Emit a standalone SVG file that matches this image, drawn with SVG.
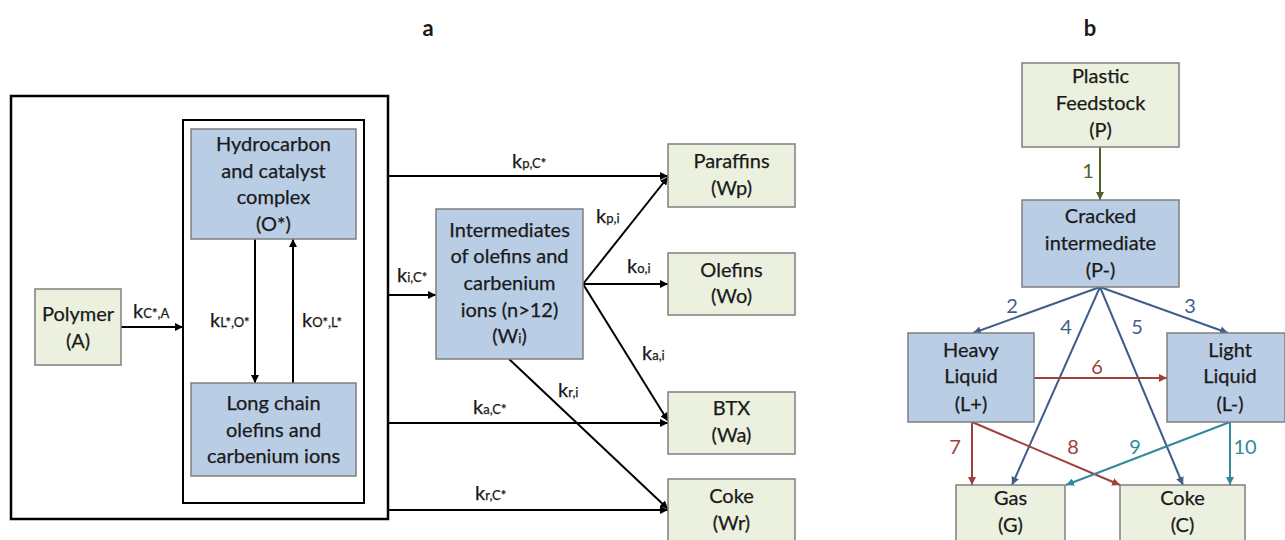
<svg xmlns="http://www.w3.org/2000/svg" width="1285" height="540" viewBox="0 0 1285 540">
<style>
text{font-family:Lato,"Open Sans","Liberation Sans",sans-serif;fill:#1a1a1a}
.t{font-size:20px;text-anchor:middle;stroke:#1a1a1a;stroke-width:0.25}
.k{font-size:20px;stroke:#1a1a1a;stroke-width:0.25}
.s{font-size:13px}
.title{font-size:22px;font-weight:bold;text-anchor:middle}
.g{fill:#ebf1de;stroke:#7f7f7f;stroke-width:1.5}
.b{fill:#b9cde5;stroke:#7f7f7f;stroke-width:1.5}
.frame{fill:none;stroke:#000}
.c{fill:none;stroke:#000;stroke-width:2}
.cg{fill:none;stroke:#4f6228;stroke-width:2}
.cb{fill:none;stroke:#3f5f8a;stroke-width:2}
.cr{fill:none;stroke:#a0403c;stroke-width:2}
.ct{fill:none;stroke:#31899c;stroke-width:2}
.n{font-size:20px;text-anchor:middle}
</style>
<defs>
<marker id="ak" viewBox="0 0 10 10" refX="10" refY="5" markerWidth="4" markerHeight="4" orient="auto" markerUnits="strokeWidth"><path d="M0,0L10,5L0,10z" fill="#000"/></marker>
<marker id="ag" viewBox="0 0 10 10" refX="10" refY="5" markerWidth="4" markerHeight="4" orient="auto" markerUnits="strokeWidth"><path d="M0,0L10,5L0,10z" fill="#4f6228"/></marker>
<marker id="ab" viewBox="0 0 10 10" refX="10" refY="5" markerWidth="4" markerHeight="4" orient="auto" markerUnits="strokeWidth"><path d="M0,0L10,5L0,10z" fill="#3f5f8a"/></marker>
<marker id="ar" viewBox="0 0 10 10" refX="10" refY="5" markerWidth="4" markerHeight="4" orient="auto" markerUnits="strokeWidth"><path d="M0,0L10,5L0,10z" fill="#a0403c"/></marker>
<marker id="at" viewBox="0 0 10 10" refX="10" refY="5" markerWidth="4" markerHeight="4" orient="auto" markerUnits="strokeWidth"><path d="M0,0L10,5L0,10z" fill="#31899c"/></marker>
</defs>
<rect width="1285" height="540" fill="#fff"/>
<text class="title" x="428" y="36">a</text>
<text class="title" x="1090" y="36">b</text>

<g id="frames">
<rect class="frame" x="11" y="96" width="377" height="423" stroke-width="2.5"/>
<rect class="frame" x="183" y="120" width="181" height="383" stroke-width="2"/>
</g>

<g id="connectors">
<line class="c" x1="121" y1="327" x2="183" y2="327" marker-end="url(#ak)"/>
<line class="c" x1="255" y1="239" x2="255" y2="383" marker-end="url(#ak)" stroke-width="1.5"/>
<line class="c" x1="293" y1="383" x2="293" y2="239" marker-end="url(#ak)" stroke-width="1.5"/>
<line class="c" x1="388" y1="176" x2="668" y2="176" marker-end="url(#ak)"/>
<line class="c" x1="388" y1="295" x2="436" y2="295" marker-end="url(#ak)"/>
<line class="c" x1="388" y1="423" x2="668" y2="423" marker-end="url(#ak)"/>
<line class="c" x1="388" y1="510" x2="668" y2="510" marker-end="url(#ak)"/>
<line class="c" x1="583" y1="284" x2="668" y2="177" marker-end="url(#ak)"/>
<line class="c" x1="583" y1="284" x2="668" y2="284" marker-end="url(#ak)"/>
<line class="c" x1="583" y1="284" x2="668" y2="421" marker-end="url(#ak)"/>
<line class="c" x1="509" y1="359" x2="668" y2="509" marker-end="url(#ak)"/>

<line class="cg" x1="1100" y1="147" x2="1100" y2="200" marker-end="url(#ag)"/>
<line class="cb" x1="1100" y1="287" x2="973" y2="333" marker-end="url(#ab)"/>
<line class="cb" x1="1100" y1="287" x2="1228" y2="333" marker-end="url(#ab)"/>
<line class="cb" x1="1100" y1="287" x2="1012" y2="485" marker-end="url(#ab)"/>
<line class="cb" x1="1100" y1="287" x2="1183" y2="485" marker-end="url(#ab)"/>
<line class="cr" x1="1034" y1="378" x2="1167" y2="378" marker-end="url(#ar)"/>
<line class="cr" x1="972" y1="422" x2="972" y2="485" marker-end="url(#ar)"/>
<line class="cr" x1="972" y1="422" x2="1120" y2="485" marker-end="url(#ar)"/>
<line class="ct" x1="1230" y1="422" x2="1066" y2="485" marker-end="url(#at)"/>
<line class="ct" x1="1230" y1="422" x2="1230" y2="485" marker-end="url(#at)"/>
</g>

<g id="labels">
<text class="k" x="133" y="318">k<tspan class="s">C*,A</tspan></text>
<text class="k" x="210" y="327">k<tspan class="s">L*,O*</tspan></text>
<text class="k" x="302" y="327">k<tspan class="s">O*,L*</tspan></text>
<text class="k" x="397" y="282">k<tspan class="s">i,C*</tspan></text>
<text class="k" x="512" y="168">k<tspan class="s">p,C*</tspan></text>
<text class="k" x="596" y="223">k<tspan class="s">p,i</tspan></text>
<text class="k" x="627" y="273">k<tspan class="s">o,i</tspan></text>
<text class="k" x="642" y="360">k<tspan class="s">a,i</tspan></text>
<text class="k" x="558" y="397">k<tspan class="s">r,i</tspan></text>
<text class="k" x="473" y="414">k<tspan class="s">a,C*</tspan></text>
<text class="k" x="475" y="500">k<tspan class="s">r,C*</tspan></text>
<text class="n" x="1088" y="178" style="fill:#4f6228">1</text>
<text class="n" x="1012" y="313" style="fill:#3f5f8a">2</text>
<text class="n" x="1190" y="313" style="fill:#3f5f8a">3</text>
<text class="n" x="1066" y="334" style="fill:#3f5f8a">4</text>
<text class="n" x="1137" y="334" style="fill:#3f5f8a">5</text>
<text class="n" x="1097" y="374" style="fill:#a0403c">6</text>
<text class="n" x="955" y="454" style="fill:#a0403c">7</text>
<text class="n" x="1073" y="454" style="fill:#a0403c">8</text>
<text class="n" x="1135" y="454" style="fill:#31899c">9</text>
<text class="n" x="1245" y="454" style="fill:#31899c">10</text>
</g>

<g id="polymer"><rect class="g" x="35" y="289" width="86" height="76"/>
<text class="t" x="78" y="321">Polymer</text><text class="t" x="78" y="348">(A)</text></g>
<g id="complex"><rect class="b" x="191" y="129" width="165" height="110"/>
<text class="t" x="273.5" y="151">Hydrocarbon</text><text class="t" x="273.5" y="178">and catalyst</text><text class="t" x="273.5" y="204">complex</text><text class="t" x="273.5" y="231">(O*)</text></g>
<g id="longchain"><rect class="b" x="191" y="383" width="165" height="93"/>
<text class="t" x="273.5" y="410">Long chain</text><text class="t" x="273.5" y="437">olefins and</text><text class="t" x="273.5" y="463">carbenium ions</text></g>
<g id="intermediates"><rect class="b" x="436" y="209" width="147" height="150"/>
<text class="t" x="509.5" y="237">Intermediates</text><text class="t" x="509.5" y="263">of olefins and</text><text class="t" x="509.5" y="290">carbenium</text><text class="t" x="509.5" y="317">ions (n&gt;12)</text><text class="t" x="509.5" y="343">(W<tspan class="s">i</tspan>)</text></g>
<g id="paraffins"><rect class="g" x="668" y="144" width="127" height="63"/>
<text class="t" x="731.5" y="168">Paraffins</text><text class="t" x="731.5" y="195">(Wp)</text></g>
<g id="olefins"><rect class="g" x="668" y="253" width="127" height="62"/>
<text class="t" x="731.5" y="277">Olefins</text><text class="t" x="731.5" y="303">(Wo)</text></g>
<g id="btx"><rect class="g" x="668" y="392" width="127" height="62"/>
<text class="t" x="731.5" y="415">BTX</text><text class="t" x="731.5" y="442">(Wa)</text></g>
<g id="coke-a"><rect class="g" x="668" y="479" width="127" height="64"/>
<text class="t" x="731.5" y="503">Coke</text><text class="t" x="731.5" y="530">(Wr)</text></g>

<g id="feedstock"><rect class="g" x="1022" y="63" width="157" height="84"/>
<text class="t" x="1100.5" y="83">Plastic</text><text class="t" x="1100.5" y="110">Feedstock</text><text class="t" x="1100.5" y="137">(P)</text></g>
<g id="cracked"><rect class="b" x="1022" y="200" width="157" height="87"/>
<text class="t" x="1100.5" y="223">Cracked</text><text class="t" x="1100.5" y="250">intermediate</text><text class="t" x="1100.5" y="277">(P-)</text></g>
<g id="heavy"><rect class="b" x="908" y="333" width="126" height="89"/>
<text class="t" x="971" y="357">Heavy</text><text class="t" x="971" y="383">Liquid</text><text class="t" x="971" y="411">(L+)</text></g>
<g id="light"><rect class="b" x="1167" y="333" width="118" height="89"/>
<text class="t" x="1230" y="357">Light</text><text class="t" x="1230" y="383">Liquid</text><text class="t" x="1230" y="411">(L-)</text></g>
<g id="gas"><rect class="g" x="956" y="485" width="109" height="58"/>
<text class="t" x="1010.5" y="505">Gas</text><text class="t" x="1010.5" y="532">(G)</text></g>
<g id="coke-b"><rect class="g" x="1120" y="485" width="125" height="58"/>
<text class="t" x="1182.5" y="505">Coke</text><text class="t" x="1182.5" y="532">(C)</text></g>
</svg>
